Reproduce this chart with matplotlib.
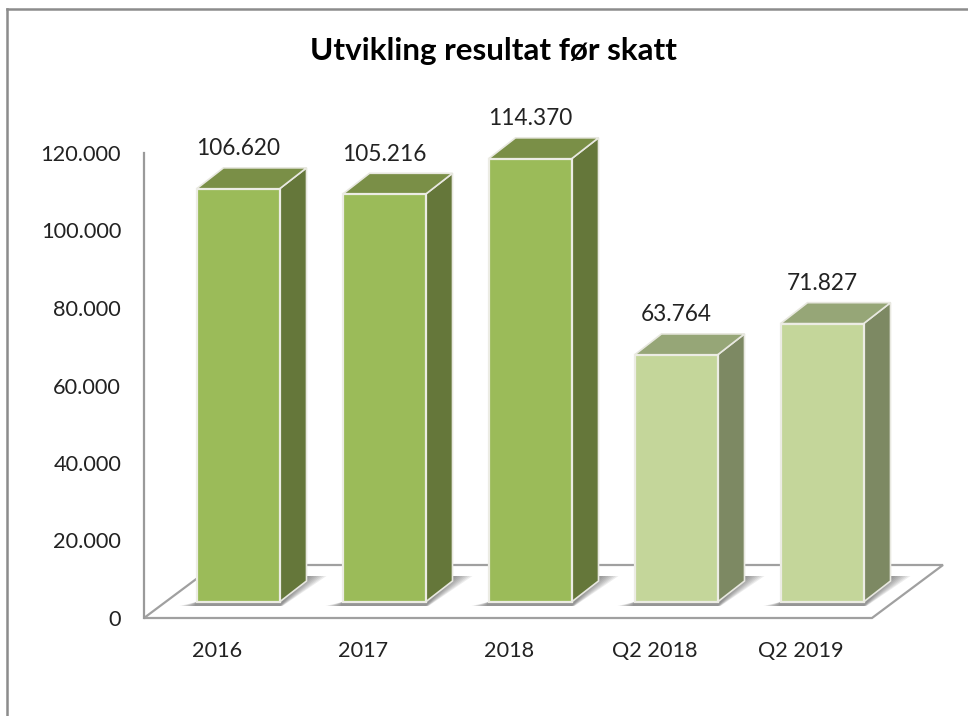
import matplotlib
matplotlib.use("Agg")
import matplotlib.pyplot as plt
from matplotlib.patches import Polygon, Rectangle
from matplotlib.lines import Line2D

plt.rcParams['font.family'] = ['Lato', 'DejaVu Sans']

categories = ['2016', '2017', '2018', 'Q2 2018', 'Q2 2019']
values = [106620, 105216, 114370, 63764, 71827]
labels = ['106.620', '105.216', '114.370', '63.764', '71.827']
y_ticks = [0, 20000, 40000, 60000, 80000, 100000, 120000]
y_tick_labels = ['0', '20.000', '40.000', '60.000', '80.000', '100.000', '120.000']

# farger: forside, toppflate, sideflate
dark = ('#9BBB59', '#7A8F47', '#65773A')
light = ('#C4D69A', '#96A677', '#7D8963')
bar_colors = [dark, dark, dark, light, light]

W, H = 968, 716
fig = plt.figure(figsize=(W / 100, H / 100), dpi=100, facecolor='white')
ax = fig.add_axes([144 / W, 1 - 618 / H, 730 / W, 465 / H])
ax.set_xlim(-0.5, 4.5)
ax.set_ylim(0, 120000)
ax.patch.set_visible(False)

# piksler til dataenheter
ux = 5 / 730
uy = 120000 / 465

for s in ['top', 'right', 'bottom']:
    ax.spines[s].set_visible(False)
ax.spines['left'].set_color('#9A9A9A')
ax.spines['left'].set_linewidth(1.6)
ax.set_yticks(y_ticks, y_tick_labels)
ax.set_xticks(range(5), categories)
ax.tick_params(axis='y', length=0, pad=16.5, labelsize=15.7, labelcolor='#222222')
ax.tick_params(axis='x', length=0, pad=16.5, labelsize=15.6, labelcolor='#222222')

# gulv
floor = [(-0.5, 0), (4.5 - 2 * ux, 0), (4.5 + 69 * ux, 53 * uy), (-0.5 + 71 * ux, 53 * uy)]
ax.add_patch(Polygon(floor, closed=True, fc='white', ec='#A0A0A0', lw=1.6,
                     clip_on=False, zorder=1))

offset_x = 21 * ux
base = 16 * uy
width = 83 * ux
depth_x = 27 * ux
depth_y = 21 * uy

for i, (v, c) in enumerate(zip(values, bar_colors)):
    x0 = i + offset_x - width / 2
    x1 = x0 + width
    top = base + v

    # skygge på gulvet, mørkest inntil søylen
    for k in range(8):
        t = (8 - k) / 8
        shade = [(x0 - 17 * t * ux, base - 4 * uy), (x1 + 3 * t * ux, base - 4 * uy),
                 (x1 + depth_x + 20 * t * ux, base + depth_y + 5 * uy),
                 (x1 + depth_x, base + depth_y + 5 * uy), (x0, base)]
        ax.add_patch(Polygon(shade, closed=True, fc='#555555', ec='none', alpha=0.11,
                             clip_on=False, zorder=2))

    ax.add_patch(Polygon([(x1, base), (x1 + depth_x, base + depth_y),
                          (x1 + depth_x, top + depth_y), (x1, top)], closed=True,
                         fc=c[2], ec='#E8E8E0', lw=1.2, clip_on=False, zorder=3))
    ax.add_patch(Polygon([(x0, top), (x1, top), (x1 + depth_x, top + depth_y),
                          (x0 + depth_x, top + depth_y)], closed=True,
                         fc=c[1], ec='#E8E8E0', lw=1.2, clip_on=False, zorder=3))
    ax.add_patch(Rectangle((x0, base), width, v, fc=c[0], ec='#ECECE4', lw=1.6,
                           clip_on=False, zorder=4))
    ax.text(i + offset_x, top + 40 * uy, labels[i], ha='center', va='center',
            fontsize=16.3, color='#222222', clip_on=False, zorder=5)

# ramme rundt diagrammet
fig.add_artist(Line2D([7 / W, 7 / W], [0, 1 - 9 / H], color='#8C8C8C', lw=1.8))
fig.add_artist(Line2D([7 / W, 1], [1 - 9 / H, 1 - 9 / H], color='#8C8C8C', lw=1.8))

fig.text(493 / W, 1 - 51 / H, 'Utvikling resultat før skatt', ha='center', va='center',
         fontsize=22.6, fontweight='bold', color='black')

fig.savefig('out.png', dpi=100)
